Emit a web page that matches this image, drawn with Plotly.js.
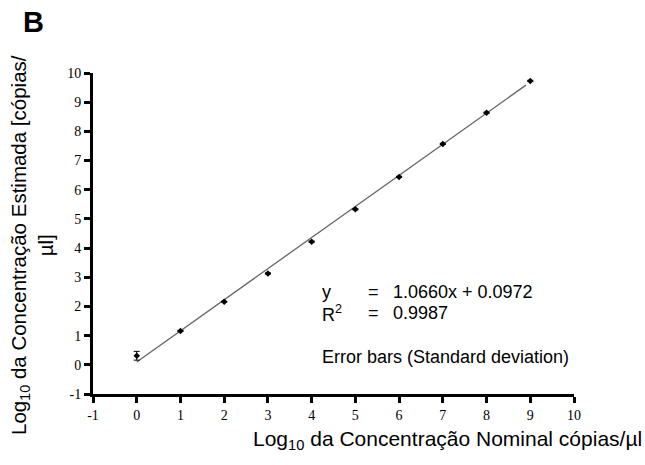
<!DOCTYPE html>
<html>
<head>
<meta charset="utf-8">
<script src="https://cdn.plot.ly/plotly-3.0.1.min.js"></script>
<style>html,body{margin:0;padding:0;background:#fff;}#chart{width:645px;height:465px;}</style>
</head>
<body>
<div id="chart"></div>
<script>
// Data
var nominalLog = [0, 1, 2, 3, 4, 5, 6, 7, 8, 9];
var estimatedLog = [0.31, 1.16, 2.16, 3.13, 4.22, 5.33, 6.44, 7.57, 8.64, 9.73];
var stdDev = [0.15, 0.02, 0.02, 0.02, 0.02, 0.02, 0.02, 0.02, 0.02, 0.02];
var fitSlope = 1.0660;
var fitIntercept = 0.0972;
var fitRange = [0, 8.9];
var tickVals = [-1, 0, 1, 2, 3, 4, 5, 6, 7, 8, 9, 10];
var tickText = ['-1', '0', '1', '2', '3', '4', '5', '6', '7', '8', '9', '10'];

var fitY = fitRange.map(function (x) { return fitSlope * x + fitIntercept; });

var sans = 'Liberation Sans, Arial, sans-serif';
var serif = 'Liberation Serif, Times New Roman, serif';

var traces = [
  {
    x: fitRange, y: fitY, mode: 'lines', type: 'scatter',
    line: {color: '#666666', width: 1.3}, hoverinfo: 'skip', showlegend: false
  },
  {
    x: nominalLog, y: estimatedLog, mode: 'markers', type: 'scatter',
    marker: {color: '#000', size: 5, symbol: 'diamond'},
    error_y: {type: 'data', array: stdDev, visible: true, color: '#000', thickness: 1, width: 3},
    showlegend: false
  }
];

function px2x(px) { return (px - 93) / 481; }
function py2y(py) { return (394 - py) / 321; }

var layout = {
  width: 645, height: 465,
  margin: {l: 93, r: 71, t: 73, b: 71},
  paper_bgcolor: '#fff', plot_bgcolor: '#fff',
  showlegend: false,
  xaxis: {
    range: [-1, 10], tickvals: tickVals, ticktext: tickText,
    showgrid: false, zeroline: false, showline: true, linecolor: '#000', linewidth: 3,
    ticks: 'outside', ticklen: 6, tickwidth: 3, tickcolor: '#000',
    tickfont: {family: serif, size: 14, color: '#000'}
  },
  yaxis: {
    range: [-1, 10], tickvals: tickVals, ticktext: tickText,
    showgrid: false, zeroline: false, showline: true, linecolor: '#000', linewidth: 3,
    ticks: 'outside', ticklen: 6, tickwidth: 3, tickcolor: '#000',
    tickfont: {family: serif, size: 14, color: '#000'}
  },
  annotations: [
    {text: '<b>B</b>', xref: 'paper', yref: 'paper', x: px2x(33), y: py2y(22),
     xanchor: 'center', yanchor: 'middle', showarrow: false,
     font: {family: sans, size: 29, color: '#000'}},
    {text: 'Log<sub>10</sub> da Concentração Estimada [cópias/<br>µl]', xref: 'paper', yref: 'paper',
     x: px2x(32), y: py2y(245), xanchor: 'center', yanchor: 'middle', textangle: -90,
     showarrow: false, font: {family: sans, size: 20.5, color: '#000'}},
    {text: 'Log<sub>10</sub> da Concentração Nominal cópias/µl', xref: 'paper', yref: 'paper',
     x: px2x(447), y: py2y(440), xanchor: 'center', yanchor: 'middle',
     showarrow: false, font: {family: sans, size: 21, color: '#000'}},
    {text: 'y', xref: 'paper', yref: 'paper', x: px2x(320), y: py2y(292), xanchor: 'left', yanchor: 'middle',
     showarrow: false, font: {family: sans, size: 18, color: '#000'}},
    {text: '=', xref: 'paper', yref: 'paper', x: px2x(366), y: py2y(292), xanchor: 'left', yanchor: 'middle',
     showarrow: false, font: {family: sans, size: 18, color: '#000'}},
    {text: '1.0660x + 0.0972', xref: 'paper', yref: 'paper', x: px2x(391), y: py2y(292), xanchor: 'left', yanchor: 'middle',
     showarrow: false, font: {family: sans, size: 18, color: '#000'}},
    {text: 'R<sup>2</sup>', xref: 'paper', yref: 'paper', x: px2x(320), y: py2y(313), xanchor: 'left', yanchor: 'middle',
     showarrow: false, font: {family: sans, size: 18, color: '#000'}},
    {text: '=', xref: 'paper', yref: 'paper', x: px2x(366), y: py2y(313), xanchor: 'left', yanchor: 'middle',
     showarrow: false, font: {family: sans, size: 18, color: '#000'}},
    {text: '0.9987', xref: 'paper', yref: 'paper', x: px2x(391), y: py2y(313), xanchor: 'left', yanchor: 'middle',
     showarrow: false, font: {family: sans, size: 18, color: '#000'}},
    {text: 'Error bars (Standard deviation)', xref: 'paper', yref: 'paper', x: px2x(320), y: py2y(357), xanchor: 'left', yanchor: 'middle',
     showarrow: false, font: {family: sans, size: 18, color: '#000'}}
  ]
};

Plotly.newPlot('chart', traces, layout, {displayModeBar: false, staticPlot: true});
</script>
</body>
</html>
